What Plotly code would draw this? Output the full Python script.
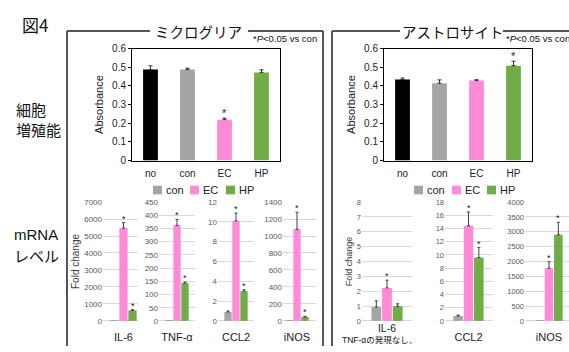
import plotly.graph_objects as go

W, H = 569, 352

# ---- cell proliferation (absorbance) ----
abs_groups = ["no", "con", "EC", "HP"]
abs_micro = [0.487, 0.487, 0.219, 0.472]
abs_micro_err = [0.020, 0.008, 0.008, 0.014]
abs_micro_sig = [False, False, True, False]
abs_astro = [0.434, 0.414, 0.429, 0.508]
abs_astro_err = [0.008, 0.018, 0.004, 0.024]
abs_astro_sig = [False, False, False, True]

# ---- mRNA fold change ----
treatments = ["con", "EC", "HP"]

micro_genes = ["IL-6", "TNF-α", "CCL2", "iNOS"]
micro_con = [1, 1, 0.9, 1]
micro_con_err = [0, 0, 0.1, 0]
micro_ec = [5470, 362, 10.1, 1080]
micro_ec_err = [320, 22, 0.8, 200]
micro_hp = [620, 143, 3.0, 45]
micro_hp_err = [40, 4, 0.15, 8]
micro_sig = [[False, True, True]] * 4
micro_ymax = [7000, 450, 12, 1400]
micro_dtick = [1000, 50, 2, 200]

astro_genes = ["IL-6", "CCL2", "iNOS"]
astro_con = [0.93, 0.75, 1]
astro_con_err = [0.42, 0.12, 0]
astro_ec = [2.22, 14.4, 1770]
astro_ec_err = [0.52, 2.1, 220]
astro_hp = [0.98, 9.6, 2900]
astro_hp_err = [0.17, 1.5, 420]
astro_sig = [[False, True, False], [False, True, True], [False, True, True]]
astro_ymax = [8, 18, 4000]
astro_dtick = [1, 2, 500]

COLORS = {"no": "#000000", "con": "#a5a5a5", "EC": "#ff8ad8", "HP": "#70ad47"}
LATIN = "Liberation Sans, Arial, sans-serif"
JP = "Noto Sans CJK JP, Liberation Sans, sans-serif"
GRID = "#d9d9d9"
CLEAR = "rgba(0,0,0,0)"

BARGAP = 0.2
GROUPGAP = 0.08


def fx(x):
    return x / W


def fy(y):
    return 1 - y / H


fig = go.Figure()
layout = {}
annotations = []
shapes = []


def star(xref, yref, x, y, size=10):
    annotations.append(dict(text="*", x=x, y=y, xref=xref, yref=yref,
                            showarrow=False, yanchor="bottom", yshift=-3,
                            font=dict(family=LATIN, size=size, color="#222")))


# ---- absorbance panels ----
abs_panels = [
    (1, abs_micro, abs_micro_err, abs_micro_sig, (132, 280)),
    (2, abs_astro, abs_astro_err, abs_astro_sig, (384, 532)),
]
for n, vals, errs, sig, (x0, x1) in abs_panels:
    xa, ya = ("x", "y") if n == 1 else (f"x{n}", f"y{n}")
    fig.add_trace(go.Bar(
        x=abs_groups, y=vals, width=0.4,
        marker=dict(color=[COLORS[g] for g in abs_groups], line=dict(width=0)),
        error_y=dict(type="data", array=errs, arrayminus=[0] * len(errs),
                     symmetric=False, color="#333", thickness=1, width=2),
        xaxis=xa, yaxis=ya, showlegend=False))
    layout[f"xaxis{'' if n == 1 else n}"] = dict(
        domain=[fx(x0), fx(x1)], anchor=ya, type="category",
        showline=True, mirror=True, linecolor="#000", linewidth=1,
        ticks="outside", ticklen=3, tickcolor=CLEAR, showgrid=False,
        tickfont=dict(family=LATIN, size=10, color="#222"))
    layout[f"yaxis{'' if n == 1 else n}"] = dict(
        domain=[fy(160), fy(44)], anchor=xa, range=[0, 0.6], dtick=0.1,
        showline=True, mirror=True, linecolor="#000", linewidth=1,
        ticks="outside", ticklen=3, tickcolor="#000", showgrid=False,
        zeroline=False, tickfont=dict(family=LATIN, size=10, color="#222"),
        title=dict(text="Absorbance", standoff=6,
                   font=dict(family=LATIN, size=11, color="#222")))
    for g, v, e, s in zip(abs_groups, vals, errs, sig):
        if s:
            star(xa, ya, g, v + e, size=11)


# ---- mRNA panels ----
slot = (1 - BARGAP) / len(treatments)
offsets = [(i - (len(treatments) - 1) / 2) * slot for i in range(len(treatments))]

mrna_panels = []
# (left px, right px, bar-group centre px, bar-group width px)
micro_px = [(103, 138, 123.5, 27), (159, 195, 177, 24), (218, 254, 236, 24), (283, 316, 297, 24)]
for i, gene in enumerate(micro_genes):
    mrna_panels.append(dict(
        gene=gene, vals=[micro_con[i], micro_ec[i], micro_hp[i]],
        errs=[micro_con_err[i], micro_ec_err[i], micro_hp_err[i]],
        sig=micro_sig[i], ymax=micro_ymax[i], dtick=micro_dtick[i],
        px=micro_px[i], title="Fold change" if i == 0 else None,
        tsize=10, lsize=8, ticklen=6, gsize=11))
astro_px = [(362, 412, 387, 32), (445, 493, 468.5, 31), (525, 569, 549, 28)]
for i, gene in enumerate(astro_genes):
    mrna_panels.append(dict(
        gene=gene, vals=[astro_con[i], astro_ec[i], astro_hp[i]],
        errs=[astro_con_err[i], astro_ec_err[i], astro_hp_err[i]],
        sig=astro_sig[i], ymax=astro_ymax[i], dtick=astro_dtick[i],
        px=astro_px[i], title="Fold change" if i == 0 else None,
        tsize=9, lsize=7.5, ticklen=0 if i == 0 else 6, gsize=10.5 if i == 0 else 11))

for k, p in enumerate(mrna_panels):
    n = k + 3
    xa, ya = f"x{n}", f"y{n}"
    x0, x1, xc, gw = p["px"]
    ppu = gw / (1 - BARGAP)
    xrange = [-(xc - x0) / ppu, (x1 - xc) / ppu]
    for t, v, e in zip(treatments, p["vals"], p["errs"]):
        fig.add_trace(go.Bar(
            name=t, x=[p["gene"]], y=[v],
            marker=dict(color=COLORS[t], line=dict(width=0)),
            error_y=dict(type="data", array=[e], arrayminus=[0], symmetric=False,
                         color="#404040", thickness=1, width=1.5, visible=e > 0),
            xaxis=xa, yaxis=ya, showlegend=False))
    xdict = dict(
        domain=[fx(x0), fx(x1)], anchor=ya, type="category", range=xrange,
        showline=False, showgrid=False, zeroline=False,
        tickfont=dict(family=LATIN, size=p["gsize"], color="#222"))
    if p["ticklen"]:
        xdict.update(ticks="outside", ticklen=p["ticklen"], tickcolor=CLEAR)
    else:
        xdict.update(ticks="")
    layout[f"xaxis{n}"] = xdict
    ydict = dict(
        domain=[fy(326), fy(203)], anchor=xa, range=[0, p["ymax"]],
        dtick=p["dtick"], tickformat="d", showline=False,
        showgrid=True, gridcolor=GRID, gridwidth=1,
        zeroline=True, zerolinecolor=GRID, zerolinewidth=1,
        ticks="", tickfont=dict(family=LATIN, size=p["lsize"], color="#595959"))
    if p["title"]:
        ydict["title"] = dict(text=p["title"], standoff=2,
                              font=dict(family=LATIN, size=p["tsize"], color="#404040"))
    layout[f"yaxis{n}"] = ydict
    for off, v, e, s in zip(offsets, p["vals"], p["errs"], p["sig"]):
        if s:
            star(xa, ya, off, v + e, size=9)


# ---- panel frames ----
FRAME = dict(color="#555555", width=2)
for (xa0, ya0, xa1, ya1) in [
    (67, 26, 67, 352), (67, 26, 150, 26), (248, 26, 323, 26), (323, 26, 323, 352),
    (332, 26, 332, 352), (332, 26, 400, 26), (503, 26, 569, 26),
]:
    shapes.append(dict(type="line", xref="paper", yref="paper",
                       x0=fx(xa0), y0=fy(ya0), x1=fx(xa1), y1=fy(ya1), line=FRAME))


# ---- legends for the mRNA charts ----
def legend_row(items):
    for t, sx, tx in items:
        shapes.append(dict(type="rect", xref="paper", yref="paper",
                           x0=fx(sx), x1=fx(sx + 9), y0=fy(195), y1=fy(186),
                           fillcolor=COLORS[t], line=dict(width=0)))
        annotations.append(dict(text=t, x=fx(tx), y=fy(190.5), xref="paper", yref="paper",
                                xanchor="left", yanchor="middle", showarrow=False,
                                font=dict(family=LATIN, size=11, color="#222")))


legend_row([("con", 153, 164), ("EC", 190, 201), ("HP", 226, 237)])
legend_row([("con", 414, 425), ("EC", 452, 463), ("HP", 487, 498)])


# ---- text labels ----
def label(text, x, y, size, anchor="left", family=JP, color="#111", yanchor="middle", pad=1):
    annotations.append(dict(text=text, x=fx(x), y=fy(y), xref="paper", yref="paper",
                            xanchor=anchor, yanchor=yanchor, showarrow=False, borderpad=pad,
                            font=dict(family=family, size=size, color=color)))


label("図4", 20, 19, 17)
label("ミクログリア", 199, 26, 14.5, anchor="center")
label("アストロサイト", 453, 26, 14.5, anchor="center")
label("*<i>P</i>&lt;0.05 vs con", 251, 34, 9.5, family=LATIN)
label("*<i>P</i>&lt;0.05 vs con", 504, 34, 9.5, family=LATIN)
label("細胞", 14, 107, 15)
label("増殖能", 14, 128, 15)
label("mRNA", 12, 237, 15, family=LATIN)
label("レベル", 12, 258, 15)
label("TNF-αの発現なし、", 379, 352, 8.5, anchor="center", yanchor="bottom", pad=0,
      family="Liberation Sans, Noto Sans CJK JP, sans-serif")

fig.update_layout(
    width=W, height=H, margin=dict(l=0, r=0, t=0, b=0),
    paper_bgcolor="white", plot_bgcolor="white",
    barmode="group", bargap=BARGAP, bargroupgap=GROUPGAP,
    showlegend=False, annotations=annotations, shapes=shapes,
    font=dict(family=LATIN), **layout)

fig.write_html("out.html")
